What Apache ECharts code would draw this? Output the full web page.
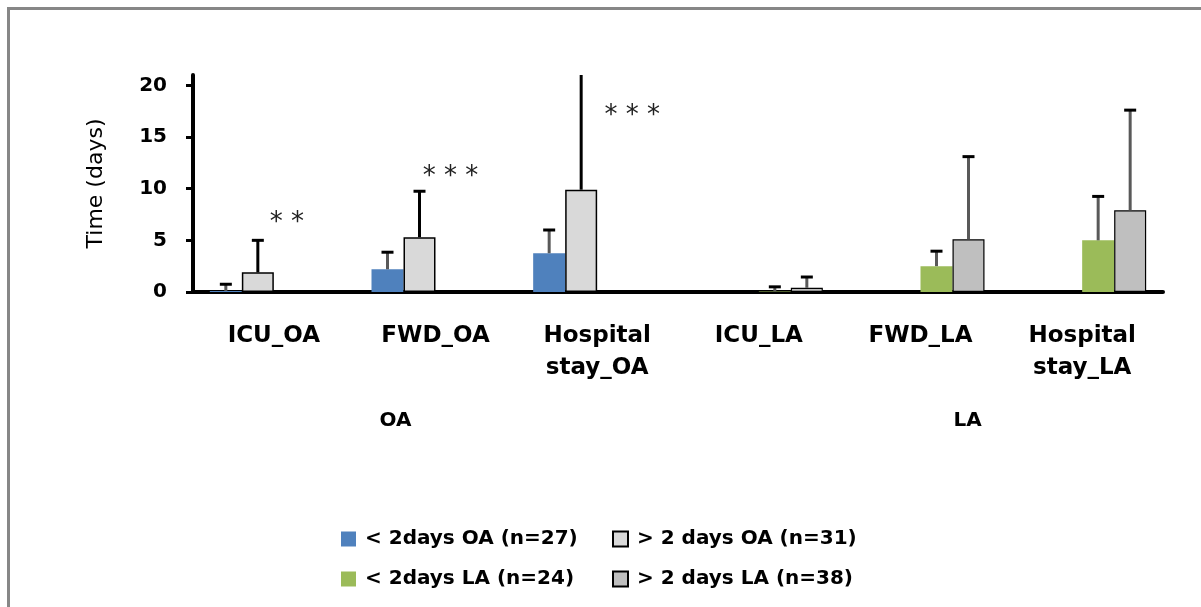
<!DOCTYPE html>
<html><head><meta charset="utf-8">
<script src="https://cdn.jsdelivr.net/npm/echarts@6/dist/echarts.min.js"></script>
<style>
html,body{margin:0;padding:0;background:#fff;overflow:hidden;}
#frame{position:absolute;left:7px;top:7px;width:1300px;height:700px;border-left:3px solid #878787;border-top:3px solid #878787;}
#chart{position:absolute;left:0;top:0;width:1201px;height:607px;}
</style></head><body>
<div id="frame"></div>
<div id="chart"></div>
<script>
// ---- data ----
const categories = ['ICU_OA', 'FWD_OA', 'Hospital\nstay_OA', 'ICU_LA', 'FWD_LA', 'Hospital\nstay_LA'];
const groupLabels = ['OA', 'LA'];
const seriesNames = ['< 2days OA (n=27)', '> 2 days OA (n=31)', '< 2days LA (n=24)', '> 2 days LA (n=38)'];
const lt2OAMean = [0.1, 2.2, 3.75, null, null, null];
const lt2OASd   = [0.65, 1.65, 2.25, null, null, null];
const gt2OAMean = [1.9, 5.3, 9.9, null, null, null];
const gt2OASd   = [3.1, 4.45, 11.5, null, null, null];
const lt2LAMean = [null, null, null, 0.05, 2.5, 5.0];
const lt2LASd   = [null, null, null, 0.45, 1.45, 4.25];
const gt2LAMean = [null, null, null, 0.4, 5.1, 7.9];
const gt2LASd   = [null, null, null, 1.05, 8.0, 9.7];
const sigMarks  = ['**', '***', '***', '', '', ''];
const sigLevel  = [7.05, 11.5, 17.4, null, null, null];
const yTicks = [0, 5, 10, 15, 20];

// ---- style ----
const BAR_W = 32;
const colors = ['#4F81BD', '#D9D9D9', '#9BBB59', '#BFBFBF'];
const borders = [0, 1.5, 0, 1.2];
const stemColors = ['#595959', '#000000', '#595959', '#595959'];
const sigDx = [13, 15, 35, 0, 0, 0];
const sigDy = 4;
const boldFont = 'DejaVu Sans';

const means = [lt2OAMean, gt2OAMean, lt2LAMean, gt2LAMean];
const sds = [lt2OASd, gt2OASd, lt2LASd, gt2LASd];

const barSeries = means.map((m, k) => ({
  type: 'bar', name: seriesNames[k],
  data: m.map(v => v == null ? '-' : v),
  barWidth: BAR_W, barGap: '0%',
  itemStyle: { color: colors[k], borderColor: '#000', borderWidth: borders[k] },
  silent: true, z: 2
}));

const errSeries = means.map((m, k) => ({
  type: 'custom', name: 'err' + k, silent: true, z: 5, clip: true,
  data: m.map((v, i) => v == null ? null : [i, v, sds[k][i]]).filter(Boolean),
  encode: { x: 0, y: 1 },
  renderItem: (params, api) => {
    const i = api.value(0), v = api.value(1), s = api.value(2);
    const base = api.coord([i, v]);
    const top = api.coord([i, v + s]);
    const x = base[0] + (k - 1.5) * BAR_W;
    return {
      type: 'group', children: [
        { type: 'line', shape: { x1: x, y1: base[1], x2: x, y2: top[1] }, style: { stroke: stemColors[k], lineWidth: 3 } },
        { type: 'line', shape: { x1: x - 6, y1: top[1], x2: x + 6, y2: top[1] }, style: { stroke: '#000', lineWidth: 3 } }
      ]
    };
  }
}));

const sigSeries = {
  type: 'custom', name: 'sig', silent: true, z: 6, clip: false,
  data: sigLevel.map((v, i) => v == null ? null : [i, v]).filter(Boolean),
  encode: { x: 0, y: 1 },
  renderItem: (params, api) => {
    const i = api.value(0);
    const p = api.coord([i, api.value(1)]);
    return {
      type: 'text', x: p[0] + sigDx[i], y: p[1] + sigDy,
      style: { text: sigMarks[i].split('').join(' '), fontFamily: 'DejaVu Sans', fontSize: 26,
        align: 'center', verticalAlign: 'middle', fill: '#222' }
    };
  }
};

const legendText = { fontFamily: boldFont, fontWeight: 'bold', fontSize: 20, color: '#000', padding: [0, 0, 0, 4] };
const chart = echarts.init(document.getElementById('chart'), null, { renderer: 'canvas' });
chart.setOption({
  backgroundColor: 'transparent',
  animation: false,
  grid: { left: 193, right: 38, top: 75, bottom: 315, containLabel: false },
  legend: [
    { data: [seriesNames[0], seriesNames[2]], orient: 'vertical', left: 336, top: 524, itemWidth: 15, itemHeight: 15,
      itemGap: 20, icon: 'rect', selectedMode: false, textStyle: legendText },
    { data: [seriesNames[1], seriesNames[3]], orient: 'vertical', left: 607, top: 524, itemWidth: 15, itemHeight: 15,
      itemGap: 20, icon: 'rect', selectedMode: false, textStyle: legendText }
  ],
  xAxis: [
    { type: 'category', data: categories, position: 'bottom',
      axisLine: { lineStyle: { color: '#000', width: 4 } }, axisTick: { show: false },
      axisLabel: { interval: 0, margin: 28, fontFamily: boldFont, fontWeight: 'bold', fontSize: 23, lineHeight: 32, color: '#000' } },
    { type: 'category', data: groupLabels, position: 'bottom',
      axisLine: { show: false }, axisTick: { show: false },
      axisLabel: { interval: 0, margin: 119,
        formatter: v => '{' + (v === 'OA' ? 'l' : 'r') + '|' + v + '}',
        rich: {
          l: { padding: [0, 80, 0, 0], fontFamily: boldFont, fontWeight: 'bold', fontSize: 20, color: '#000' },
          r: { padding: [0, 0, 0, 94], fontFamily: boldFont, fontWeight: 'bold', fontSize: 20, color: '#000' }
        } } }
  ],
  yAxis: {
    type: 'value', min: 0, max: 21, interval: 5,
    name: 'Time (days)', nameLocation: 'middle', nameGap: 86,
    nameTextStyle: { fontFamily: 'DejaVu Sans', fontSize: 22, color: '#000' },
    axisLine: { show: true, lineStyle: { color: '#000', width: 4 } },
    axisTick: { show: true, length: 7, lineStyle: { color: '#000', width: 3 }, customValues: yTicks },
    axisLabel: { margin: 26, fontFamily: boldFont, fontWeight: 'bold', fontSize: 20, color: '#000', customValues: yTicks },
    splitLine: { show: false }
  },
  series: [...barSeries, ...errSeries, sigSeries]
});
</script>
</body></html>
